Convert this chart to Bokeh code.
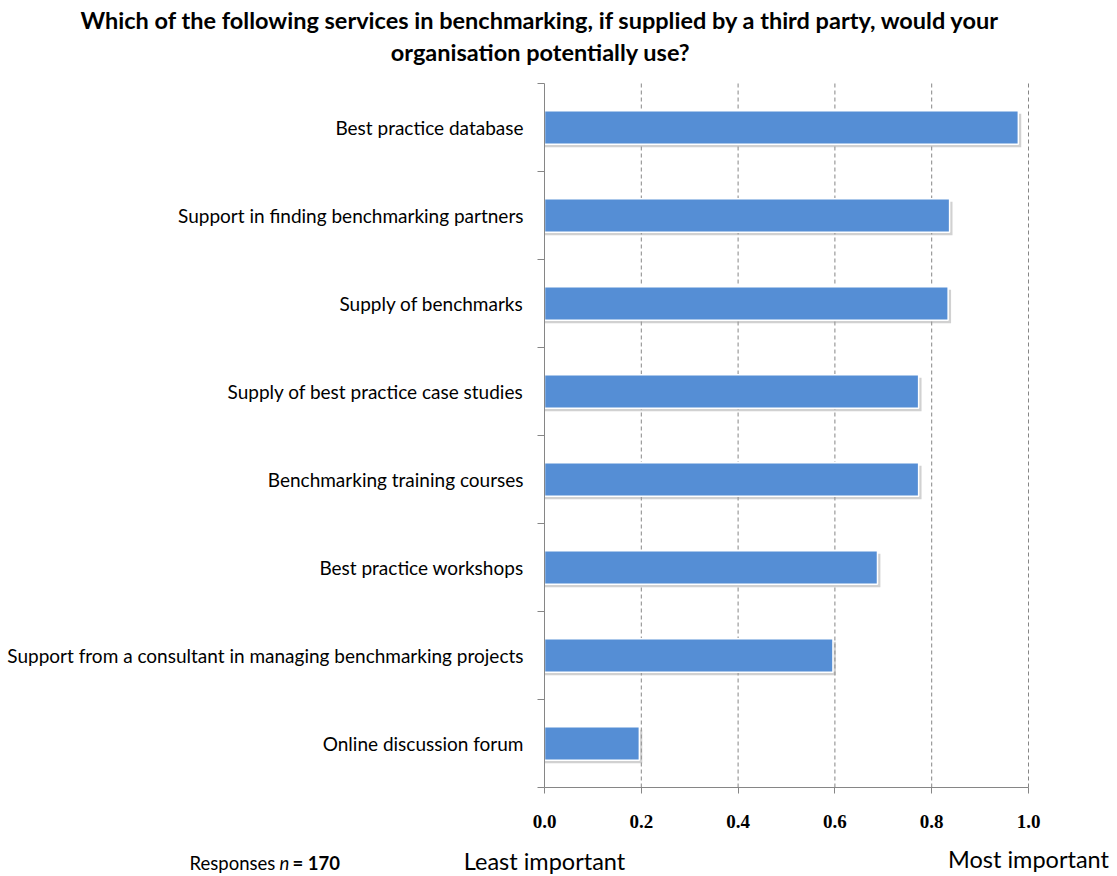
from bokeh.plotting import figure
from bokeh.models import Range1d, LinearAxis, FixedTicker, Label, Grid
from bokeh.embed import file_html
from bokeh.resources import INLINE

# ---- data ----
services = [
    "Best practice database",
    "Support in finding benchmarking partners",
    "Supply of benchmarks",
    "Supply of best practice case studies",
    "Benchmarking training courses",
    "Best practice workshops",
    "Support from a consultant in managing benchmarking projects",
    "Online discussion forum",
]
scores = [0.979, 0.837, 0.834, 0.773, 0.773, 0.688, 0.596, 0.196]
x_ticks = [0.0, 0.2, 0.4, 0.6, 0.8, 1.0]
x_tick_labels = ["0.0", "0.2", "0.4", "0.6", "0.8", "1.0"]
n_responses = 170
title_lines = [
    "Which of the following services in benchmarking, if supplied by a third party, would your",
    "organisation potentially use?",
]
scale_low = "Least important"
scale_high = "Most important"

# ---- layout (canvas pixels) ----
W, H = 1117, 876
PL, PR, PT, PB = 544, 1028, 83, 787      # plotting area edges
FONT = "Lato"
AXIS_GREY = "#868686"

n = len(services)
ypos = [n - i - 0.5 for i in range(n)]
boundaries = list(range(n + 1))
xmin, xmax = x_ticks[0], x_ticks[-1]
kx = (PR - PL) / (xmax - xmin)
ky = (PB - PT) / n

p = figure(width=W, height=H,
           x_range=Range1d(xmin - PL / kx, xmax + (W - PR) / kx),
           y_range=Range1d(0 - (H - PB) / ky, n + PT / ky),
           output_backend="svg", toolbar_location=None,
           x_axis_location=None, y_axis_location=None,
           min_border=0)
p.outline_line_color = None
p.background_fill_color = "white"
p.border_fill_color = "white"
p.center = [r for r in p.center if not isinstance(r, Grid)]

# vertical dashed grid lines at the value ticks
grid_x = x_ticks[1:]
p.segment(x0=grid_x, x1=grid_x, y0=[0] * len(grid_x), y1=[n] * len(grid_x),
          line_color=AXIS_GREY, line_width=1, line_dash="4 3")

# bars: soft shadow then main bar
bar_h = 0.38
p.hbar(y=[y - 0.035 for y in ypos], left=0, right=[s + 0.006 for s in scores],
       height=bar_h, fill_color="#999999", fill_alpha=0.45, line_color=None)
p.hbar(y=ypos, left=0, right=scores, height=bar_h,
       fill_color="#558ED5", line_color="white", line_width=1.5)

# value axis
xa = LinearAxis(fixed_location=0, bounds=(xmin, xmax),
                ticker=FixedTicker(ticks=x_ticks),
                major_label_overrides={t: l for t, l in zip(x_ticks, x_tick_labels)},
                axis_line_color=AXIS_GREY,
                major_tick_line_color=AXIS_GREY,
                major_tick_in=0, major_tick_out=6,
                minor_tick_line_color=None,
                major_label_standoff=21,
                major_label_text_font="Liberation Serif",
                major_label_text_font_style="bold",
                major_label_text_font_size="19px",
                major_label_text_color="black")
p.add_layout(xa, "below")

# category axis: names at band centres, tick marks at band boundaries
ya = LinearAxis(fixed_location=xmin, bounds=(0, n),
                ticker=FixedTicker(ticks=ypos, minor_ticks=boundaries),
                major_label_overrides={y: s for y, s in zip(ypos, services)},
                axis_line_color=AXIS_GREY,
                major_tick_line_color=None,
                major_tick_in=0, major_tick_out=0,
                minor_tick_line_color=AXIS_GREY,
                minor_tick_in=0, minor_tick_out=7,
                major_label_standoff=14,
                major_label_text_font=FONT,
                major_label_text_font_size="19px",
                major_label_text_color="black")
p.add_layout(ya, "left")


def add_text(cx, cy, txt, size, align="left", style="normal"):
    p.add_layout(Label(x=cx, y=H - cy, x_units="screen", y_units="screen",
                       text=txt, text_align=align, text_baseline="middle",
                       text_font=FONT, text_font_style=style,
                       text_font_size=size, text_color="black"))


# title
add_text(540, 19, title_lines[0], "23.5px", align="center", style="bold")
add_text(540, 51, title_lines[1], "23.5px", align="center", style="bold")

# footer
add_text(189, 862, "Responses", "18.5px")
add_text(279, 862, "n", "18.5px", style="italic")
add_text(292, 862, "= " + str(n_responses), "18.5px", style="bold")
add_text(PL, 860, scale_low, "23.5px", align="center")
add_text(PR, 858, scale_high, "23.5px", align="center")

open("out.html", "w").write(file_html(p, INLINE))
